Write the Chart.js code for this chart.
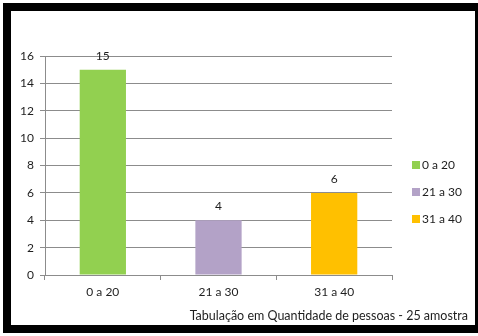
<!DOCTYPE html>
<html>
<head>
<meta charset="utf-8">
<script src="https://cdn.jsdelivr.net/npm/chart.js@4.4.0/dist/chart.umd.min.js"></script>
<style>
  html, body { margin: 0; padding: 0; background: #fff; overflow: hidden; }
  #frame { position: absolute; left: 3px; top: 3px; width: 464px; height: 314px; border: 8px solid #000; background: #fff; }
  #myChart { display: block; }
</style>
</head>
<body>
<div id="frame"><canvas id="myChart" width="464" height="314"></canvas></div>
<script>
"use strict";

var categories = ["0 a 20", "21 a 30", "31 a 40"];
var values = [15, 4, 6];
var barColors = ["#92D050", "#B3A2C7", "#FFC000"];
var yTicks = [0, 2, 4, 6, 8, 10, 12, 14, 16];
var footTitle = "Tabulação em Quantidade de pessoas - 25 amostra";

var FONT = "Lato, 'Liberation Sans', sans-serif";
var TEXT = "#1e1e1e";

// value labels above bars, legend on right, caption at bottom right
var extras = {
    id: "extras",
    afterDatasetsDraw: function (chart) {
        var ctx = chart.ctx;
        var meta = chart.getDatasetMeta(0);
        ctx.save();
        ctx.font = "12px " + FONT;
        ctx.fillStyle = TEXT;
        ctx.textAlign = "center";
        ctx.textBaseline = "middle";
        meta.data.forEach(function (bar, i) {
            ctx.fillText(String(values[i]), bar.x, bar.y - 14);
        });

        // legend
        ctx.textAlign = "left";
        categories.forEach(function (c, i) {
            var y = 154 + i * 27;
            ctx.fillStyle = barColors[i];
            ctx.fillRect(401, y - 4, 8, 8);
            ctx.fillStyle = TEXT;
            ctx.fillText(c, 411, y);
        });

        // caption
        ctx.font = "12.5px " + FONT;
        ctx.textAlign = "right";
        ctx.fillText(footTitle, 457, 305);
        ctx.restore();
    }
};

var ctx = document.getElementById("myChart");
var myChart = new Chart(ctx, {
    type: "bar",
    data: {
        labels: categories,
        datasets: [{
            data: values,
            backgroundColor: barColors,
            categoryPercentage: 1,
            barPercentage: 0.4
        }]
    },
    options: {
        responsive: false,
        animation: false,
        layout: { padding: { left: 0, top: 45, right: 83, bottom: 0 } },
        plugins: {
            legend: { display: false },
            tooltip: { enabled: false },
            title: { display: false }
        },
        scales: {
            x: {
                grid: {
                    offset: true,
                    drawOnChartArea: false,
                    drawTicks: true,
                    tickLength: 5,
                    color: "#8c8c8c"
                },
                border: { color: "#8c8c8c" },
                ticks: { color: TEXT, font: { family: FONT, size: 12 }, padding: 5 },
                afterFit: function (s) { s.height = 50; }
            },
            y: {
                min: 0,
                max: 16,
                afterBuildTicks: function (s) {
                    s.ticks = yTicks.map(function (v) { return { value: v }; });
                },
                grid: { color: "#8c8c8c", tickLength: 5 },
                border: { color: "#8c8c8c" },
                ticks: { color: TEXT, font: { family: FONT, size: 12 }, padding: 6 },
                afterFit: function (s) { s.width = 34; }
            }
        }
    },
    plugins: [extras]
});
</script>
</body>
</html>
